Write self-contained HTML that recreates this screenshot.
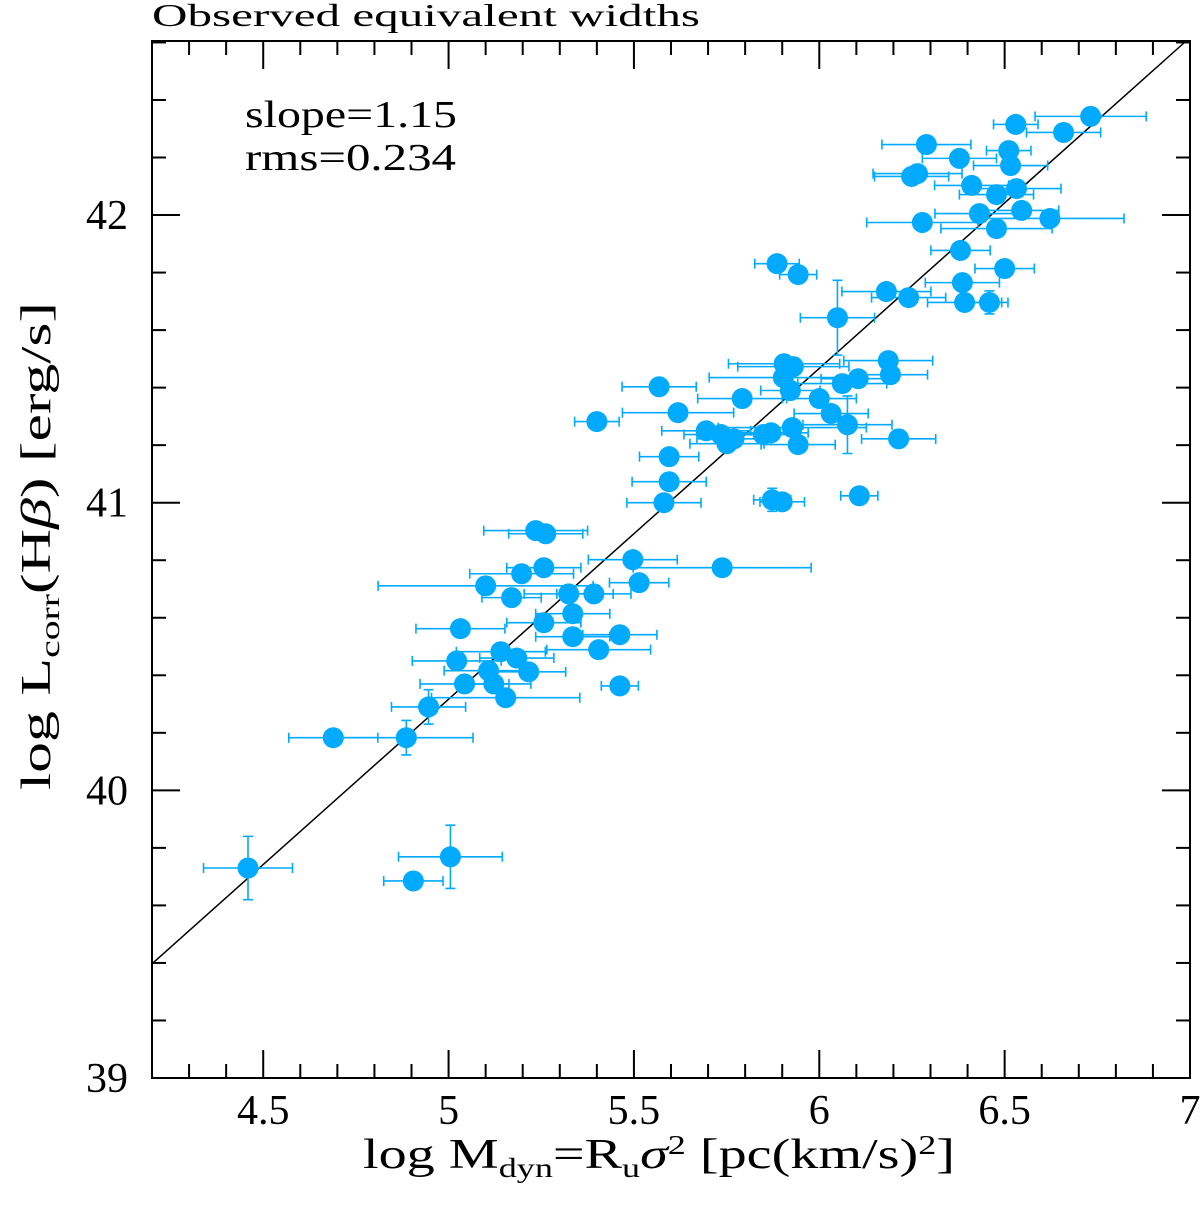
<!DOCTYPE html>
<html><head><meta charset="utf-8"><style>
body{margin:0;background:#fff}
svg text{font-family:"Liberation Serif",serif;fill:#000}
</style></head><body>
<svg id="chart" width="1200" height="1210" xmlns="http://www.w3.org/2000/svg">
<text x="152" y="26" font-size="32" textLength="548" lengthAdjust="spacingAndGlyphs">Observed equivalent widths</text>
<rect x="152" y="41" width="1038" height="1037" fill="none" stroke="#000" stroke-width="2"/>
<g id="ticks"></g>
<g id="fitline"></g>
<g id="errs"></g>
<g id="dots"></g>
<text x="245" y="127" font-size="38" textLength="212" lengthAdjust="spacingAndGlyphs">slope=1.15</text>
<text x="245" y="170" font-size="38" textLength="211" lengthAdjust="spacingAndGlyphs">rms=0.234</text>
<text x="363" y="1168" font-size="42" textLength="592" lengthAdjust="spacingAndGlyphs">log M<tspan font-size="27" dy="9">dyn</tspan><tspan dy="-9">=R</tspan><tspan font-size="27" dy="9">u</tspan><tspan dy="-9" font-style="italic">σ</tspan><tspan font-size="27" dy="-14">2</tspan><tspan dy="14"> [pc(km/s)</tspan><tspan font-size="27" dy="-14">2</tspan><tspan dy="14">]</tspan></text>
<text transform="translate(50,790) rotate(-90)" font-size="42" textLength="488" lengthAdjust="spacingAndGlyphs">log L<tspan font-size="27" dy="9">corr</tspan><tspan dy="-9">(H</tspan><tspan font-style="italic">β</tspan><tspan>) [erg/s]</tspan></text>
</svg>
<script>
const xVals=[4.459,4.905,5.005,4.689,4.886,4.946,5.022,5.032,5.043,5.10,5.108,5.122,5.141,5.154,5.170,5.184,5.197,5.216,5.235,5.262,5.257,5.257,5.324,5.335,5.335,5.392,5.405,5.462,5.462,5.497,5.514,5.738,5.581,5.595,5.595,5.40,5.568,5.619,5.695,5.735,5.751,5.770,5.792,5.849,5.870,5.873,5.900,5.886,5.943,5.905,5.930,5.903,5.922,5.927,5.943,6.000,6.032,6.049,6.062,6.076,6.105,6.108,6.181,6.186,6.192,6.214,6.241,6.249,6.265,6.278,6.289,6.378,6.381,6.386,6.392,6.411,6.432,6.459,6.478,6.478,6.500,6.511,6.516,6.530,6.532,6.546,6.622,6.659,6.732];
const yVals=[39.730,39.685,39.769,40.183,40.183,40.290,40.450,40.562,40.370,40.711,40.416,40.370,40.482,40.322,40.670,40.460,40.753,40.412,40.903,40.892,40.774,40.583,40.683,40.614,40.534,40.683,40.489,40.541,40.363,40.802,40.722,40.774,41.000,41.073,41.160,41.282,41.403,41.313,41.250,41.237,41.205,41.222,41.362,41.237,41.243,41.010,41.003,41.831,41.793,41.483,41.473,41.435,41.390,41.261,41.202,41.362,41.310,41.643,41.414,41.271,41.431,41.024,41.734,41.494,41.445,41.222,41.713,42.134,42.144,41.974,42.245,42.197,41.877,41.765,41.696,42.103,42.005,41.696,42.071,41.953,41.814,42.224,42.172,42.315,42.092,42.016,41.988,42.287,42.343];
const xErr=[0.12,0.08,0.14,0.12,0.18,0.1,0.12,0.12,0.12,0.29,0.12,0.1,0.12,0.2,0.08,0.1,0.14,0.1,0.14,0.1,0.1,0.1,0.12,0.1,0.1,0.1,0.14,0.1,0.05,0.12,0.08,0.24,0.1,0.1,0.08,0.06,0.1,0.15,0.12,0.1,0.1,0.1,0.12,0.1,0.1,0.05,0.06,0.06,0.05,0.15,0.15,0.2,0.08,0.2,0.1,0.1,0.1,0.1,0.12,0.12,0.1,0.05,0.12,0.12,0.1,0.1,0.1,0.1,0.12,0.15,0.12,0.1,0.08,0.1,0.1,0.1,0.12,0.05,0.1,0.15,0.08,0.06,0.1,0.06,0.12,0.1,0.2,0.1,0.15];
const yErr=[0.11,0.03,0.11,0.02,0.06,0.06,0.03,0.02,0.02,0.03,0.02,0.02,0.02,0.02,0.02,0.02,0.02,0.02,0.02,0.02,0.02,0.02,0.02,0.02,0.02,0.02,0.02,0.02,0.02,0.02,0.02,0.02,0.02,0.02,0.02,0.02,0.02,0.02,0.02,0.02,0.02,0.02,0.02,0.02,0.02,0.04,0.02,0.02,0.02,0.02,0.02,0.02,0.03,0.02,0.02,0.02,0.02,0.13,0.02,0.1,0.02,0.02,0.02,0.02,0.02,0.03,0.03,0.02,0.02,0.02,0.02,0.02,0.02,0.02,0.02,0.02,0.02,0.04,0.02,0.02,0.02,0.02,0.02,0.02,0.02,0.02,0.02,0.02,0.02];
const xTickLabels=[4.5,5,5.5,6,6.5,7];
const yTickLabels=[39,40,41,42];
const fitSlope=1.15, fitIntercept=39.397-1.15*4.2;
const X0=4.2,X1=7.0,Y0=39,Y1=42.605,L=152,R=1190,T=41,B=1078;
const sx=v=>L+(v-X0)/(X1-X0)*(R-L);
const sy=v=>B-(v-Y0)/(Y1-Y0)*(B-T);
const NS="http://www.w3.org/2000/svg";
function mk(tag,attrs,parent){const e=document.createElementNS(NS,tag);for(const k in attrs)e.setAttribute(k,attrs[k]);parent.appendChild(e);return e;}
const tk=document.getElementById('ticks');
for(let i=43;i<=70;i++){const v=i/10,x=sx(v),maj=(i%5===0),len=maj?28:14;
 const t1=mk('line',{x1:x,x2:x,y1:B,y2:B-len,stroke:'#000','stroke-width':2},tk);
 
 
 const t2=mk('line',{x1:x,x2:x,y1:T,y2:T+len,stroke:'#000','stroke-width':2},tk);
 
 }
xTickLabels.forEach(v=>{const t=mk('text',{x:sx(v),y:1124,'font-size':42,'text-anchor':'middle'},tk);t.textContent=String(v);
 
 });
for(let i=195;i<=213;i++){const v=i/5,y=sy(v),maj=(i%5===0),len=maj?28:14;
 const t1=mk('line',{x1:L,x2:L+len,y1:y,y2:y,stroke:'#000','stroke-width':2},tk);
 
 
 const t2=mk('line',{x1:R,x2:R-len,y1:y,y2:y,stroke:'#000','stroke-width':2},tk);
 
 }
yTickLabels.forEach(v=>{const t=mk('text',{x:128,y:sy(v)+14,'font-size':42,'text-anchor':'end'},tk);t.textContent=String(v);
 
 });
const xe=(Y1-fitIntercept)/fitSlope;
const fl=mk('line',{x1:sx(X0),y1:sy(fitSlope*X0+fitIntercept),x2:sx(xe),y2:sy(Y1),stroke:'#000','stroke-width':1.5},document.getElementById('fitline'));


const eg=document.getElementById('errs'),dg=document.getElementById('dots'),C='#00aaff';
xVals.forEach((xv,i)=>{const yv=yVals[i],cx=sx(xv),cy=sy(yv);
 const xl=sx(xv-xErr[i]),xr=sx(xv+xErr[i]),yt=sy(yv+yErr[i]),yb=sy(yv-yErr[i]);
 const g=mk('path',{d:`M${xl},${cy}H${xr}M${xl},${cy-5}V${cy+5}M${xr},${cy-5}V${cy+5}M${cx},${yt}V${yb}M${cx-5},${yt}H${cx+5}M${cx-5},${yb}H${cx+5}`,stroke:C,'stroke-width':1.6,fill:'none'},eg);
 
 
 const c=mk('circle',{cx:cx,cy:cy,r:10.5,fill:C},dg);
 
 });
</script>
</body></html>
